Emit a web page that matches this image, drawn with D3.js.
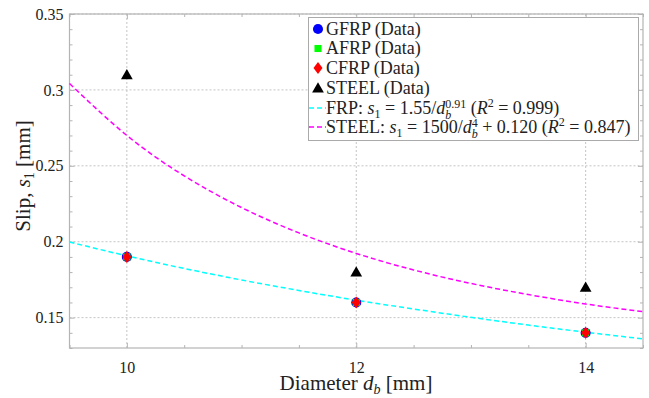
<!DOCTYPE html>
<html><head><meta charset="utf-8">
<script src="https://cdn.jsdelivr.net/npm/d3@7"></script>
<style>
body{margin:0;background:#fff;}
svg text, svg tspan{font-family:"Liberation Serif","DejaVu Serif",serif !important;fill:#222;}
</style></head>
<body>
<svg id="chart" width="649" height="398" font-family="Liberation Serif"></svg>
<script>
// ---- data ----
const diameters = [10, 12, 14];
const gfrp = [0.19, 0.16, 0.14];
const afrp = [0.19, 0.16, 0.14];
const cfrp = [0.19, 0.16, 0.14];
const steel = [0.31, 0.18, 0.17];
// fitted curves, values
const fitD = [9.5, 10, 10.5, 11, 11.5, 12, 12.5, 13, 13.5, 14, 14.5];
const fitFRP = [0.1998, 0.1907, 0.1824, 0.1748, 0.1679, 0.1615, 0.1557, 0.1502, 0.1451, 0.1404, 0.1360];
const fitSTEEL = [0.3042, 0.2700, 0.2434, 0.2225, 0.2058, 0.1923, 0.1814, 0.1725, 0.1652, 0.1590, 0.1539];
const xTicks = [10, 12, 14];
const yTicks = [0.15, 0.2, 0.25, 0.3, 0.35];
const yTickLabels = ["0.15", "0.2", "0.25", "0.3", "0.35"];

const FONT = "Liberation Serif, DejaVu Serif, serif";
const svg = d3.select("#chart");
const L = 69.5, R = 643, T = 14, B = 348;
const x = d3.scaleLinear().domain([9.5, 14.5]).range([L, R]);
const y = d3.scaleLinear().domain([0.13, 0.35]).range([B, T]);

const axisCol = "#b4b4b4";
// grid
const g = svg.append("g");
g.selectAll(".gx").data(xTicks).enter().append("line")
  .attr("x1", d => x(d)).attr("x2", d => x(d)).attr("y1", T).attr("y2", B)
  .attr("stroke", "#c4c4c4").attr("stroke-width", 1).attr("stroke-dasharray", "2,2");
g.selectAll(".gy").data(yTicks).enter().append("line")
  .attr("x1", L).attr("x2", R).attr("y1", d => y(d)).attr("y2", d => y(d))
  .attr("stroke", "#c4c4c4").attr("stroke-width", 1).attr("stroke-dasharray", "2,2");

// axes with inward ticks
const xMinor = d3.range(9.5, 14.51, 0.5).filter(v => Math.abs(v - Math.round(v / 2) * 2) > 1e-6);
const yMinor = d3.range(0.13, 0.3501, 0.01).filter(v => !yTicks.some(t => Math.abs(t - v) < 1e-6));
function mkAxis(axisFn, scale, tx, ty, vals, len, fmt) {
  const a = svg.append("g").attr("transform", `translate(${tx},${ty})`)
    .call(axisFn(scale).tickValues(vals).tickSizeInner(-len).tickSizeOuter(0).tickPadding(len + 6)
      .tickFormat(fmt));
  a.attr("font-family", FONT);
  a.select(".domain").remove();
  a.selectAll(".tick line").attr("stroke", axisCol);
  return a;
}
const xa = mkAxis(d3.axisBottom, x, 0, B, xTicks, 5, d => d);
xa.selectAll("text").style("font-size", "16px").attr("fill", "#222").attr("dy", "0.9em");
mkAxis(d3.axisBottom, x, 0, B, xMinor, 3, () => "");
mkAxis(d3.axisTop, x, 0, T, xTicks, 5, () => "");
mkAxis(d3.axisTop, x, 0, T, xMinor, 3, () => "");
const ya = mkAxis(d3.axisLeft, y, L, 0, yTicks, 5, (d, i) => yTickLabels[i]);
ya.selectAll("text").style("font-size", "16px").attr("fill", "#222").attr("x", -6);
mkAxis(d3.axisLeft, y, L, 0, yMinor, 3, () => "");
mkAxis(d3.axisRight, y, R, 0, yTicks, 5, () => "");
mkAxis(d3.axisRight, y, R, 0, yMinor, 3, () => "");

svg.append("rect").attr("x", L).attr("y", T).attr("width", R - L).attr("height", B - T)
  .attr("fill", "none").attr("stroke", axisCol).attr("stroke-width", 1.2);

// fitted curves
const line = d3.line().x(d => x(d[0])).y(d => y(d[1])).curve(d3.curveNatural);
svg.append("path").datum(fitD.map((d, i) => [d, fitSTEEL[i]])).attr("d", line)
  .attr("fill", "none").attr("stroke", "#ff00ff").attr("stroke-width", 1.5).attr("stroke-dasharray", "5,3");
svg.append("path").datum(fitD.map((d, i) => [d, fitFRP[i]])).attr("d", line)
  .attr("fill", "none").attr("stroke", "#00ffff").attr("stroke-width", 1.5).attr("stroke-dasharray", "5,3");

// markers
const sym = {
  circle: d3.symbol().type(d3.symbolCircle).size(80),
  square: d3.symbol().type(d3.symbolSquare).size(50),
  triangle: d3.symbol().type(d3.symbolTriangle).size(60)
};
function diamond(cx, cy, w, h) { return `M${cx},${cy - h}L${cx + w},${cy}L${cx},${cy + h}L${cx - w},${cy}Z`; }
svg.selectAll(".g").data(diameters).enter().append("path")
  .attr("d", sym.circle).attr("transform", (d, i) => `translate(${x(d)},${y(gfrp[i])})`).attr("fill", "#0000ff");
svg.selectAll(".a").data(diameters).enter().append("path")
  .attr("d", sym.square).attr("transform", (d, i) => `translate(${x(d)},${y(afrp[i])})`).attr("fill", "#00ff00");
svg.selectAll(".c").data(diameters).enter().append("path")
  .attr("d", (d, i) => diamond(x(d), y(cfrp[i]), 4.5, 6)).attr("fill", "#ff0000");
svg.selectAll(".s").data(diameters).enter().append("path")
  .attr("d", sym.triangle).attr("transform", (d, i) => `translate(${x(d)},${y(steel[i]) + 1})`).attr("fill", "#000");

// legend
const lg = svg.append("g").attr("font-family", FONT);
lg.append("rect").attr("x", 308.5).attr("y", 17.5).attr("width", 330).attr("height", 123)
  .attr("fill", "#fff").attr("stroke", "#aaa").attr("stroke-width", 1);
const rowY = [29, 48.5, 68, 88, 108, 127];
const lx = 318, tx = 326;
lg.append("path").attr("d", sym.circle).attr("transform", `translate(${lx},${rowY[0]})`).attr("fill", "#0000ff");
lg.append("path").attr("d", sym.square).attr("transform", `translate(${lx},${rowY[1]})`).attr("fill", "#00ff00");
lg.append("path").attr("d", diamond(lx, rowY[2], 4.5, 6)).attr("fill", "#ff0000");
lg.append("path").attr("d", sym.triangle).attr("transform", `translate(${lx},${rowY[3] + 1})`).attr("fill", "#000");
lg.append("line").attr("x1", 309).attr("x2", 326).attr("y1", rowY[4]).attr("y2", rowY[4])
  .attr("stroke", "#00ffff").attr("stroke-width", 1.5).attr("stroke-dasharray", "5,3");
lg.append("line").attr("x1", 309).attr("x2", 326).attr("y1", rowY[5]).attr("y2", rowY[5])
  .attr("stroke", "#ff00ff").attr("stroke-width", 1.5).attr("stroke-dasharray", "5,3");
const fs = 18;
["GFRP (Data)", "AFRP (Data)", "CFRP (Data)", "STEEL (Data)"].forEach((t, i) => {
  lg.append("text").attr("x", tx).attr("y", rowY[i] + 5.5).attr("font-family", FONT).style("font-size", fs + "px").text(t);
});
function addTspans(textSel, parts) {
  textSel.attr("font-family", FONT);
  parts.forEach(p => {
    const ts = textSel.append("tspan").text(p.t);
    if (p.i) ts.style("font-style", "italic");
    if (p.s) ts.style("font-size", p.s + "px");
    if (p.dy) ts.attr("dy", p.dy);
    if (p.dx) ts.attr("dx", p.dx);
  });
}
const t5 = lg.append("text").attr("x", tx).attr("y", rowY[4] + 5.5).style("font-size", fs + "px");
addTspans(t5, [
  {t: "FRP: "}, {t: "s", i: 1}, {t: "1", s: 12, dy: 4}, {t: " = 1.55/", dy: -4}, {t: "d", i: 1},
  {t: "b", i: 1, s: 12, dy: 5}, {t: "0.91", s: 12, dy: -11, dx: -6}, {t: " (", dy: 6}, {t: "R", i: 1},
  {t: "2", s: 12, dy: -7}, {t: " = 0.999)", dy: 7}
]);
const t6 = lg.append("text").attr("x", tx).attr("y", rowY[5] + 5.5).style("font-size", fs + "px");
addTspans(t6, [
  {t: "STEEL: "}, {t: "s", i: 1}, {t: "1", s: 12, dy: 4}, {t: " = 1500/", dy: -4}, {t: "d", i: 1},
  {t: "b", i: 1, s: 12, dy: 5}, {t: "4", s: 12, dy: -11, dx: -6}, {t: " + 0.120 (", dy: 6}, {t: "R", i: 1},
  {t: "2", s: 12, dy: -7}, {t: " = 0.847)", dy: 7}
]);

// axis labels
const xl = svg.append("text").attr("x", 356).attr("y", 390).attr("text-anchor", "middle").style("font-size", "21px");
addTspans(xl, [{t: "Diameter "}, {t: "d", i: 1}, {t: "b", i: 1, s: 14, dy: 4}, {t: " [mm]", dy: -4}]);
const yl = svg.append("text").attr("transform", "translate(30,176) rotate(-90)").attr("text-anchor", "middle").style("font-size", "21px");
addTspans(yl, [{t: "Slip, "}, {t: "s", i: 1}, {t: "1", s: 14, dy: 4}, {t: " [mm]", dy: -4}]);
</script>
</body></html>
